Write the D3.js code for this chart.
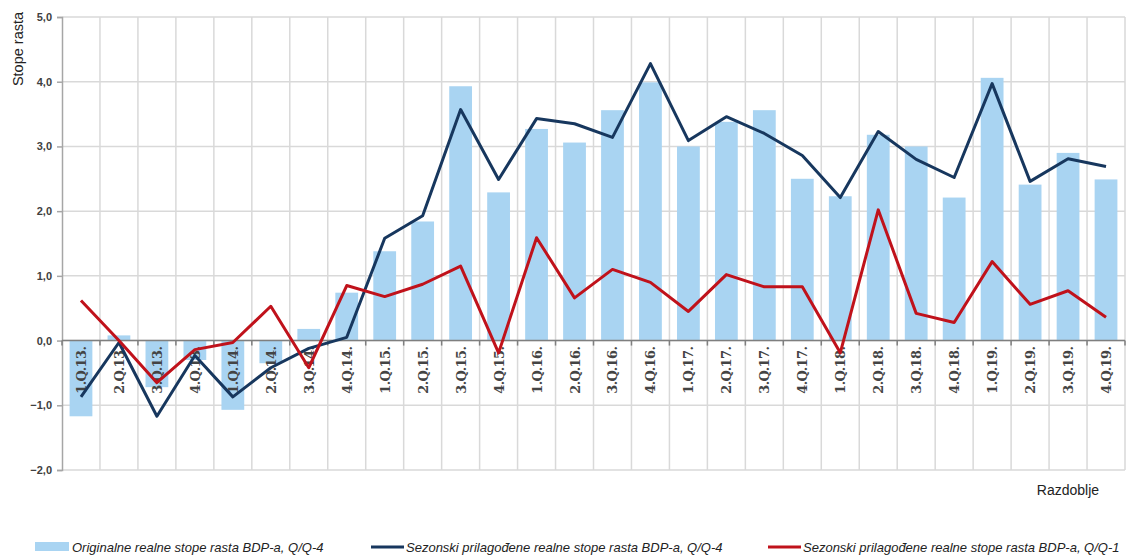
<!DOCTYPE html>
<html>
<head>
<meta charset="utf-8">
<script src="https://cdn.jsdelivr.net/npm/d3@7"></script>
<style>
  html,body{margin:0;padding:0;background:#fff;}
  svg{display:block;font-family:"Liberation Sans",Arial,sans-serif;}
</style>
</head>
<body>
<svg id="chart" width="1140" height="556"></svg>
<script>
// kvartali
const periods = ["1.Q.13.","2.Q.13.","3.Q.13.","4.Q.13.","1.Q.14.","2.Q.14.","3.Q.14.","4.Q.14.",
  "1.Q.15.","2.Q.15.","3.Q.15.","4.Q.15.","1.Q.16.","2.Q.16.","3.Q.16.","4.Q.16.",
  "1.Q.17.","2.Q.17.","3.Q.17.","4.Q.17.","1.Q.18.","2.Q.18.","3.Q.18.","4.Q.18.",
  "1.Q.19.","2.Q.19.","3.Q.19.","4.Q.19."];
// originalne stope, Q/Q-4 (stupci)
const origYoY = [-1.17,0.08,-0.72,-0.3,-1.07,-0.35,0.18,0.74,
  1.38,1.84,3.93,2.29,3.27,3.06,3.56,3.99,
  3.0,3.38,3.56,2.5,2.23,3.18,3.0,2.21,
  4.06,2.41,2.9,2.49];
// sezonski prilagođene, Q/Q-4
const saYoY = [-0.87,-0.03,-1.17,-0.23,-0.87,-0.42,-0.12,0.05,
  1.58,1.93,3.57,2.49,3.43,3.35,3.14,4.28,
  3.09,3.46,3.2,2.86,2.21,3.23,2.8,2.52,
  3.97,2.46,2.81,2.69];
// sezonski prilagođene, Q/Q-1
const saQoQ = [0.62,0.0,-0.65,-0.14,-0.03,0.53,-0.42,0.85,
  0.68,0.87,1.15,-0.19,1.59,0.66,1.1,0.9,
  0.45,1.02,0.83,0.83,-0.19,2.02,0.42,0.28,
  1.22,0.56,0.77,0.36];
const yTicks = [-2,-1,0,1,2,3,4,5];

const BAR = "#a9d4f2", NAVY = "#17375e", RED = "#c0121b", GRID = "#d9d9d9";

const svg = d3.select("#chart");
const L = 62, R = 1125, T = 17, B = 470;

const x = d3.scaleBand().domain(periods).range([L, R]).paddingInner(0.4).paddingOuter(0.2);
const xs = d3.scaleBand().domain(periods).range([L, R]); // for grid/boundaries
const y = d3.scaleLinear().domain([-2, 5]).range([B, T]);

// horizontal grid
svg.append("g").selectAll("line").data(yTicks).enter().append("line")
  .attr("x1", L).attr("x2", R)
  .attr("y1", d => y(d)).attr("y2", d => y(d))
  .attr("stroke", GRID).attr("stroke-width", 1.5);

// vertical grid at category boundaries
const bounds = periods.map(p => xs(p)).concat([R]);
svg.append("g").selectAll("line").data(bounds.slice(1)).enter().append("line")
  .attr("x1", d => d).attr("x2", d => d)
  .attr("y1", T).attr("y2", B)
  .attr("stroke", GRID).attr("stroke-width", 1.5);

// bars
svg.append("g").selectAll("rect").data(origYoY).enter().append("rect")
  .attr("x", (d,i) => x(periods[i]))
  .attr("width", x.bandwidth())
  .attr("y", d => y(Math.max(0, d)))
  .attr("height", d => Math.abs(y(d) - y(0)))
  .attr("fill", BAR);

// y axis
const yAxis = d3.axisLeft(y).tickValues(yTicks).tickSize(5)
  .tickFormat(d => d3.format(".1f")(d).replace(".", ","));
const gy = svg.append("g").attr("transform", `translate(${L},0)`).call(yAxis);
gy.select(".domain").attr("stroke", "#a6a6a6").attr("stroke-width", 1.5);
gy.selectAll(".tick line").attr("stroke", "#a6a6a6").attr("stroke-width", 1.5);
gy.selectAll(".tick text").attr("x", -10)
  .attr("font-size", 11).attr("font-weight", "bold").attr("fill", "#404040")
  .attr("font-family", "Liberation Sans, Arial, sans-serif");

// x axis line at zero with ticks at boundaries
svg.append("line").attr("x1", L).attr("x2", R).attr("y1", y(0)).attr("y2", y(0))
  .attr("stroke", "#7f7f7f").attr("stroke-width", 1.5);
svg.append("g").selectAll("line").data(bounds).enter().append("line")
  .attr("x1", d => d).attr("x2", d => d)
  .attr("y1", y(0)).attr("y2", y(0) + 5)
  .attr("stroke", "#7f7f7f").attr("stroke-width", 1.5);

// category labels, rotated (under the lines, as in the original)
svg.append("g").selectAll("text").data(periods).enter().append("text")
  .attr("transform", d => `translate(${xs(d) + xs.bandwidth()/2 + 5},${y(0) + 6}) rotate(-90)`)
  .attr("text-anchor", "end")
  .attr("font-size", 13).attr("font-weight", "bold").attr("fill", "#444")
  .attr("font-family", "DejaVu Serif, serif")
  .style("letter-spacing", "-0.6px")
  .text(d => d);

// lines
const line = d3.line().x((d,i) => xs(periods[i]) + xs.bandwidth()/2).y(d => y(d));
svg.append("path").datum(saYoY).attr("d", line)
  .attr("fill", "none").attr("stroke", NAVY).attr("stroke-width", 3).attr("stroke-linejoin", "round");
svg.append("path").datum(saQoQ).attr("d", line)
  .attr("fill", "none").attr("stroke", RED).attr("stroke-width", 3).attr("stroke-linejoin", "round");

// axis titles
svg.append("text").attr("transform", "translate(23,49) rotate(-90)")
  .attr("text-anchor", "middle").attr("font-size", 14.5).attr("fill", "#222")
  .text("Stope rasta");
svg.append("text").attr("x", 1068).attr("y", 495)
  .attr("text-anchor", "middle").attr("font-size", 14).attr("fill", "#222")
  .text("Razdoblje");

// legend
const legend = [
  {label: "Originalne realne stope rasta BDP-a, Q/Q-4", type: "bar", color: BAR, x: 35},
  {label: "Sezonski prilagođene realne stope rasta BDP-a, Q/Q-4", type: "line", color: NAVY, x: 371},
  {label: "Sezonski prilagođene realne stope rasta BDP-a, Q/Q-1", type: "line", color: RED, x: 768}
];
const lg = svg.append("g").selectAll("g").data(legend).enter().append("g")
  .attr("transform", d => `translate(${d.x},547)`);
lg.each(function(d){
  const g = d3.select(this);
  if (d.type === "bar") {
    g.append("rect").attr("x", 0).attr("y", -5).attr("width", 34).attr("height", 9).attr("fill", d.color);
  } else {
    g.append("line").attr("x1", 0).attr("x2", 33).attr("y1", 0).attr("y2", 0)
      .attr("stroke", d.color).attr("stroke-width", 3);
  }
  g.append("text").attr("x", d.type === "bar" ? 37 : 35).attr("y", 4.5)
    .attr("font-size", 13).attr("font-style", "italic").attr("fill", "#222")
    .text(d.label);
});
</script>
</body>
</html>
